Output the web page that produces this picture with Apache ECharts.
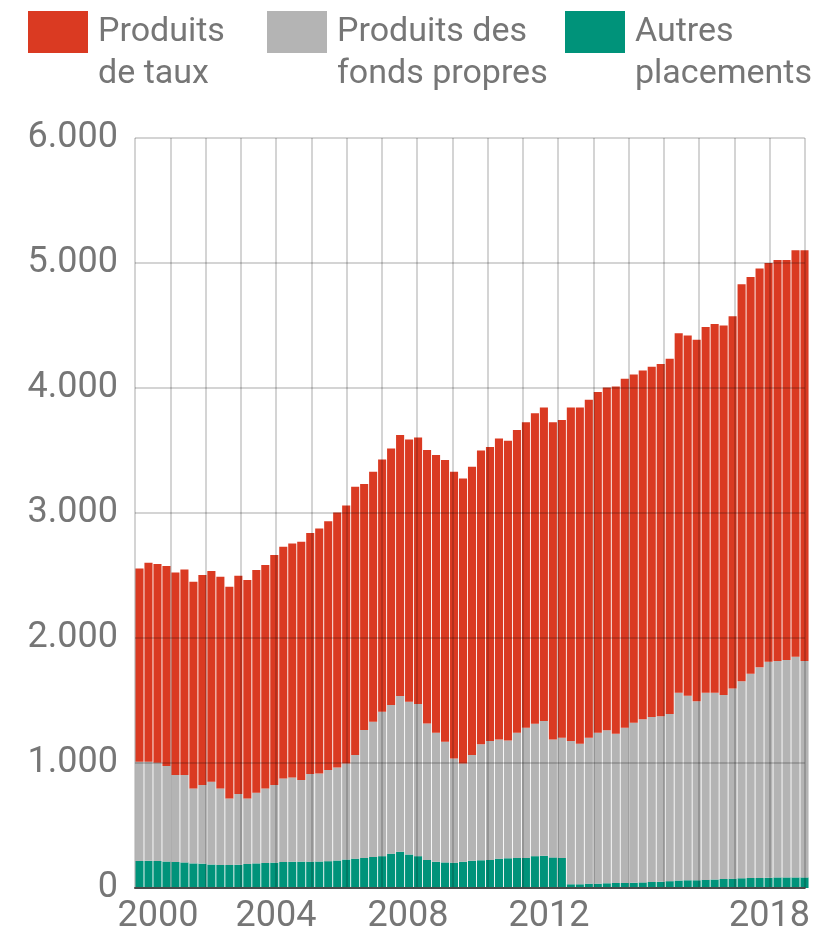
<!DOCTYPE html>
<html>
<head>
<meta charset="utf-8">
<script src="https://cdn.jsdelivr.net/npm/echarts@6/dist/echarts.min.js"></script>
<style>
  html, body { margin: 0; padding: 0; background: #fff; }
  #chart { width: 813px; height: 939px; }
</style>
</head>
<body>
<div id="chart"></div>
<script>
// quarterly figures, 2000 T1 .. 2018 T3
const quarters = [];
for (let y = 2000; y <= 2018; y++) {
  for (let q = 1; q <= 4; q++) {
    if (y === 2018 && q === 4) break;
    quarters.push(y + 'T' + q);
  }
}

const yearLabels = [2000, 2004, 2008, 2012, 2018];
const yTicks = [0, 1000, 2000, 3000, 4000, 5000, 6000];

const autresPlacements = [
  216, 218, 216, 212, 208, 205, 197, 195, 188, 184,
  184, 186, 192, 197, 200, 203, 208, 210, 211, 211,
  212, 215, 220, 228, 235, 240, 248, 255, 275, 290,
  268, 255, 225, 210, 205, 203, 210, 218, 222, 225,
  235, 238, 240, 240, 255, 258, 245, 240, 30, 30,
  35, 35, 38, 40, 40, 42, 45, 48, 50, 55,
  60, 62, 62, 65, 68, 72, 75, 78, 80, 80,
  82, 85, 85, 85, 85
];

const fondsPropres = [
  795, 793, 787, 764, 696, 699, 600, 629, 663, 613,
  533, 566, 525, 566, 597, 621, 669, 675, 653, 701,
  705, 729, 745, 769, 829, 1024, 1083, 1156, 1189, 1246,
  1223, 1217, 1092, 1033, 966, 834, 787, 846, 928, 951,
  954, 943, 1003, 1043, 1060, 1079, 944, 962, 1146, 1124,
  1167, 1208, 1224, 1195, 1243, 1281, 1305, 1321, 1325, 1337,
  1502, 1476, 1432, 1497, 1494, 1473, 1521, 1576, 1635, 1686,
  1728, 1732, 1739, 1766, 1732
];

const produitsTaux = [
  1546, 1592, 1589, 1600, 1621, 1645, 1654, 1680, 1685, 1694,
  1694, 1747, 1747, 1781, 1787, 1840, 1854, 1872, 1907, 1928,
  1960, 1991, 2040, 2063, 2147, 1968, 2000, 2018, 2053, 2088,
  2098, 2133, 2187, 2221, 2253, 2294, 2280, 2307, 2350, 2353,
  2408, 2397, 2421, 2443, 2483, 2507, 2537, 2542, 2668, 2690,
  2704, 2725, 2743, 2778, 2792, 2785, 2790, 2801, 2818, 2842,
  2876, 2883, 2893, 2927, 2951, 2955, 2978, 3176, 3173, 3190,
  3190, 3207, 3200, 3251, 3285
];

const legendNames = {
  'Produits de taux': 'Produits\nde taux',
  'Produits des fonds propres': 'Produits des\nfonds propres',
  'Autres placements': 'Autres\nplacements'
};

const RED = '#da3a22';
const GREY = '#b4b4b4';
const GREEN = '#00937a';
const TEXT = '#767676';
const FONT = 'Roboto, "Noto Sans", sans-serif';
const FS = 36;

const chart = echarts.init(document.getElementById('chart'));

// legend text is centred on the icon, so a blank first line pushes it down
function legendAt(name, left) {
  return {
    data: [name],
    left: left,
    top: -31,
    padding: 0,
    icon: 'rect',
    itemWidth: 60,
    itemHeight: 42,
    selectedMode: false,
    formatter: (n) => '\n' + legendNames[n],
    textStyle: {
      fontFamily: FONT,
      fontSize: 34,
      lineHeight: 42,
      color: TEXT,
      padding: [0, 0, 0, 5]
    }
  };
}

// year labels sit a little off their gridline, as in the print
function yearStyle(pad) {
  return { fontFamily: FONT, fontSize: FS, color: TEXT, padding: pad };
}
const labelRich = {
  y2000: yearStyle([0, 0, 0, 46]),
  y2004: yearStyle([0, 0, 0, 0]),
  y2008: yearStyle([0, 18, 0, 0]),
  y2012: yearStyle([0, 18, 0, 0]),
  y2018: yearStyle([0, 0, 0, 0])
};

chart.setOption({
  animation: false,
  backgroundColor: '#fff',
  legend: [
    legendAt('Produits de taux', 28),
    legendAt('Produits des fonds propres', 267),
    legendAt('Autres placements', 565)
  ],
  grid: [
    // bars
    { left: 135, top: 138, width: 674, height: 750 },
    // year grid drawn over the bars
    { left: 135, top: 138, width: 684, height: 750 }
  ],
  xAxis: [
    {
      type: 'category',
      gridIndex: 0,
      data: quarters,
      show: false
    },
    {
      type: 'value',
      gridIndex: 1,
      min: 2000,
      max: 2019,
      interval: 1,
      z: 5,
      axisLine: { show: true, lineStyle: { color: '#4a4a4a', width: 2 } },
      axisTick: { show: false },
      splitLine: { show: true, lineStyle: { color: 'rgba(0,0,0,0.17)', width: 2 } },
      axisLabel: {
        margin: 11,
        fontFamily: FONT,
        fontSize: FS,
        color: TEXT,
        showMaxLabel: false,
        rich: labelRich,
        formatter: (v) => (yearLabels.includes(v) ? '{y' + v + '|' + v + '}' : '')
      }
    }
  ],
  yAxis: [
    {
      type: 'value',
      gridIndex: 0,
      min: 0,
      max: 6000,
      show: false
    },
    {
      type: 'value',
      gridIndex: 1,
      min: yTicks[0],
      max: yTicks[yTicks.length - 1],
      interval: 1000,
      z: 5,
      axisLine: { show: false },
      axisTick: { show: false },
      splitLine: { show: true, lineStyle: { color: 'rgba(0,0,0,0.17)', width: 2 } },
      axisLabel: {
        margin: 17,
        fontFamily: FONT,
        fontSize: FS,
        color: TEXT,
        formatter: (v) => (v === 0 ? '0' : v / 1000 + '.000')
      }
    }
  ],
  series: [
    {
      name: 'Autres placements',
      type: 'bar',
      stack: 'total',
      xAxisIndex: 0,
      yAxisIndex: 0,
      barCategoryGap: '10%',
      itemStyle: { color: GREEN },
      data: autresPlacements
    },
    {
      name: 'Produits des fonds propres',
      type: 'bar',
      stack: 'total',
      xAxisIndex: 0,
      yAxisIndex: 0,
      barCategoryGap: '10%',
      itemStyle: { color: GREY },
      data: fondsPropres
    },
    {
      name: 'Produits de taux',
      type: 'bar',
      stack: 'total',
      xAxisIndex: 0,
      yAxisIndex: 0,
      barCategoryGap: '10%',
      itemStyle: { color: RED },
      data: produitsTaux
    }
  ]
});
</script>
</body>
</html>
